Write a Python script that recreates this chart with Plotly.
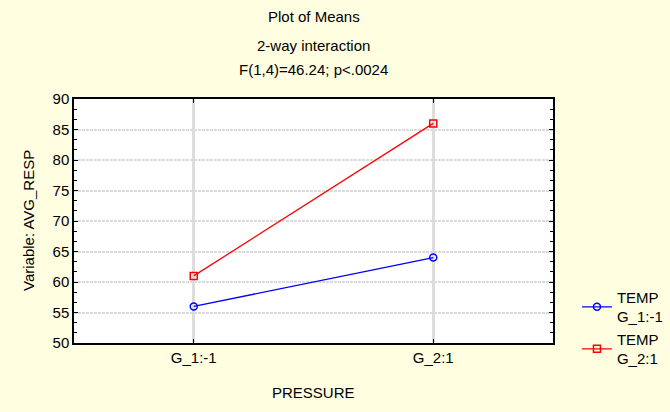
import plotly.graph_objects as go

categories = ["G_1:-1", "G_2:1"]
temp_low = [56, 64]
temp_high = [61, 86]
series_names = ["TEMP<br>G_1:-1", "TEMP<br>G_2:1"]
title_lines = ["Plot of Means", "2-way interaction", "F(1,4)=46.24; p<.0024"]
x_title = "PRESSURE"
y_title = "Variable: AVG_RESP"

FONT = "Liberation Sans, Arial, sans-serif"
BG = "#FFFEE0"
FS = 15

fig = go.Figure()
fig.add_trace(go.Scatter(
    x=categories, y=temp_low, name=series_names[0], mode="lines+markers",
    line=dict(color="#0000FF", width=1.3),
    marker=dict(symbol="circle-open", size=7, color="#0000FF", line=dict(width=1.5)),
))
fig.add_trace(go.Scatter(
    x=categories, y=temp_high, name=series_names[1], mode="lines+markers",
    line=dict(color="#FF0000", width=1.3),
    marker=dict(symbol="square-open", size=7, color="#FF0000", line=dict(width=1.5)),
))

annots = []
for ypos, txt in zip([1.340, 1.221, 1.119], title_lines):
    annots.append(dict(text=txt, x=0.5, y=ypos, xref="paper", yref="paper",
                       xanchor="center", yanchor="middle", showarrow=False,
                       font=dict(size=FS, color="#000000", family=FONT)))
annots.append(dict(text=x_title, x=0.5, y=-0.201, xref="paper", yref="paper",
                   xanchor="center", yanchor="middle", showarrow=False,
                   font=dict(size=FS, color="#000000", family=FONT)))
annots.append(dict(text=y_title, x=-0.096, y=0.5, xref="paper", yref="paper",
                   xanchor="center", yanchor="middle", showarrow=False, textangle=-90,
                   font=dict(size=FS, color="#000000", family=FONT)))

fig.update_layout(
    width=670, height=412,
    margin=dict(l=74, r=117, t=99, b=69, autoexpand=False),
    paper_bgcolor=BG, plot_bgcolor="#FFFFFF",
    font=dict(family=FONT, size=FS, color="#000000"),
    annotations=annots,
    showlegend=True,
    legend=dict(x=1.05, y=0.255, xanchor="left", yanchor="top",
                bgcolor="rgba(0,0,0,0)", font=dict(size=FS, family=FONT),
                itemwidth=30),
)
fig.update_xaxes(
    type="category", range=[-0.5, 1.5],
    showline=True, linecolor="#000000", linewidth=1.5, mirror="ticks",
    ticks="inside", ticklen=4, tickcolor="#000000",
    showgrid=True, gridcolor="#DDDDDD", gridwidth=3,
    zeroline=False, tickfont=dict(size=FS),
)
fig.update_yaxes(
    range=[50, 90], dtick=5, tick0=50,
    showline=True, linecolor="#000000", linewidth=1.5, mirror="ticks",
    ticks="inside", ticklen=4, tickcolor="#000000",
    showgrid=True, gridcolor="#DADADA", gridwidth=2, griddash="3px,1px",
    minor=dict(ticks="inside", ticklen=3, dtick=5/3, tick0=50, tickcolor="#000000", showgrid=False),
    zeroline=False, tickfont=dict(size=FS),
)

fig.write_html("out.html", config={"displayModeBar": False},
               post_script="document.body.style.margin='0';document.body.style.overflow='hidden';")
